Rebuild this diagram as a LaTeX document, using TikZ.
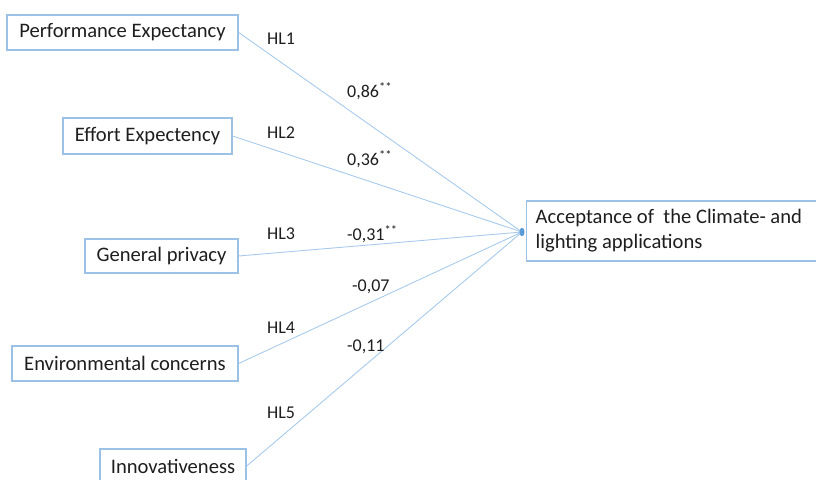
\documentclass[tikz,border=0pt]{standalone}
\usepackage{fontspec}
\setmainfont{Carlito}
\definecolor{boxblue}{RGB}{155,194,230}
\definecolor{linkblue}{RGB}{168,202,236}
\definecolor{tipblue}{RGB}{91,155,213}
\definecolor{ink}{RGB}{30,30,30}
\begin{document}
\begin{tikzpicture}[x=1bp,y=-1bp,
  construct/.style={draw=boxblue,line width=1.3bp,rectangle,inner sep=0pt,
    text=ink,font=\fontsize{20.6bp}{25bp}\selectfont},
  path/.style={draw=linkblue,line width=0.9bp},
  coef/.style={anchor=base west,inner sep=0pt,text=ink,
    font=\fontsize{18bp}{22bp}\selectfont}]
\useasboundingbox (0,0) rectangle (816,480);
\clip (0,0) rectangle (816,480);

% predictor constructs
\node[construct,minimum width=231bp,minimum height=35bp] (perf) at (122.5,32.5) {Performance Expectancy};
\node[construct,minimum width=169bp,minimum height=36bp] (effort) at (147.5,136) {Effort Expectency};
\node[construct,minimum width=153bp,minimum height=34bp] (privacy) at (161.5,256) {General privacy};
\node[construct,minimum width=226bp,minimum height=35bp] (env) at (125,363.5) {Environmental concerns};
\node[construct,minimum width=146bp,minimum height=34bp] (innov) at (173,466) {Innovativeness};

% outcome construct (its right edge runs past the frame)
\node[construct,anchor=west,minimum height=60bp,inner xsep=9bp,
  text width=300bp,align=flush left] (accept) at (526,231)
  {Acceptance of\ \ the Climate- and\\lighting applications};

\coordinate (tip) at (522,232);

% paths into the outcome
\draw[path] (perf.east) -- (tip);
\draw[path] (effort.east) -- (tip);
\draw[path] (privacy.east) -- (tip);
\draw[path] (env.east) -- (tip);
\draw[path] (innov.east) -- (tip);
\fill[tipblue] (tip) ellipse [x radius=2.6bp,y radius=4.2bp];

% hypothesis labels and coefficients
\node[coef] (hl1) at (267,45) {HL1};
\node[coef] (c1) at (347,98) {0,86\textsuperscript{**}};
\node[coef] (hl2) at (267,139) {HL2};
\node[coef] (c2) at (347,166) {0,36\textsuperscript{**}};
\node[coef] (hl3) at (267,240) {HL3};
\node[coef] (c3) at (347,241) {-0,31\textsuperscript{**}};
\node[coef] (c4) at (352,292) {-0,07};
\node[coef] (hl4) at (267,333) {HL4};
\node[coef] (c5) at (347,351) {-0,11};
\node[coef] (hl5) at (267,418) {HL5};
\end{tikzpicture}
\end{document}
